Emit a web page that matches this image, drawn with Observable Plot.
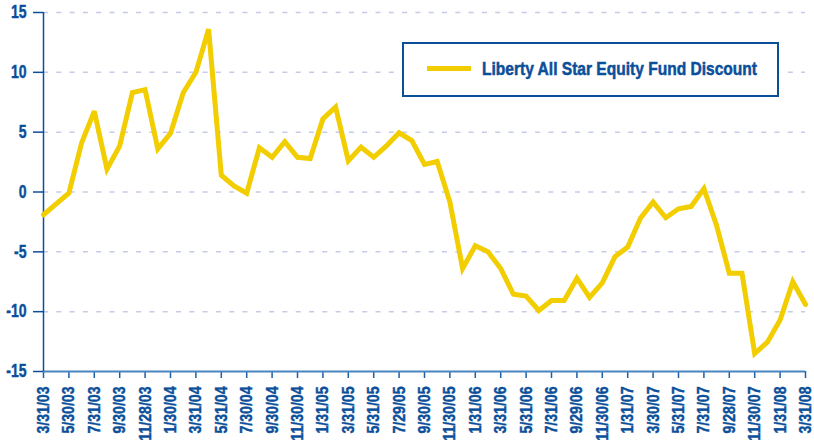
<!DOCTYPE html>
<html>
<head>
<meta charset="utf-8">
<script src="https://cdn.jsdelivr.net/npm/d3@7"></script>
<script src="https://cdn.jsdelivr.net/npm/@observablehq/plot@0.6"></script>
<style>
  html, body { margin: 0; padding: 0; background: #fff; }
  #wrap { position: relative; width: 814px; height: 447px; overflow: hidden; }
  #legend {
    position: absolute; left: 402px; top: 42px; width: 373px; height: 51px;
    border: 2.5px solid #0b4f9a; background: #fff; box-sizing: content-box;
    font-family: 'Liberation Sans', Arial, sans-serif;
    font-weight: bold; font-size: 18px; color: #0b4f9a;
  }
  #legend .swatch { position: absolute; left: 23px; top: 22px; width: 44px; height: 5px; background: #f2cd00; }
  #legend .txt { position: absolute; left: 78px; top: 15px; line-height: 20px; white-space: nowrap; transform-origin: 0 50%; -webkit-text-stroke: 0.5px #0b4f9a; }
  g[aria-label$="tick label"] text { stroke: #0b4f9a; stroke-width: 0.45px; }
</style>
</head>
<body>
<div id="wrap">
  <div id="chart"></div>
  <div id="legend"><div class="swatch"></div><span class="txt">Liberty All Star Equity Fund Discount</span></div>
</div>
<script>
const tickLabels = ["3/31/03","5/30/03","7/31/03","9/30/03","11/28/03","1/30/04","3/31/04","5/31/04","7/30/04","9/30/04","11/30/04","1/31/05","3/31/05","5/31/05","7/29/05","9/30/05","11/30/05","1/31/06","3/31/06","5/31/06","7/31/06","9/29/06","11/30/06","1/31/07","3/30/07","5/31/07","7/31/07","9/28/07","11/30/07","1/31/08","3/31/08"];
const discount = [-1.9,-1.0,-0.1,4.1,6.75,1.9,3.85,8.3,8.55,3.6,4.9,8.3,10.0,13.6,1.4,0.5,-0.1,3.7,2.9,4.2,2.9,2.8,6.1,7.1,2.6,3.75,2.9,3.85,4.95,4.3,2.3,2.55,-0.84,-6.4,-4.5,-5.0,-6.4,-8.55,-8.7,-9.9,-9.06,-9.06,-7.2,-8.8,-7.6,-5.4,-4.6,-2.2,-0.84,-2.15,-1.4,-1.2,0.28,-2.8,-6.8,-6.8,-13.5,-12.55,-10.7,-7.5,-9.4];
const yTicks = [-15,-10,-5,0,5,10,15];
const gridValues = [-10,-5,0,5,10,15];

const data = discount.map((v, i) => ({i, v}));
const xTicks = d3.range(0, discount.length, 2);
const blue = "#0b4f9a";

const chart = Plot.plot({
  width: 814,
  height: 447,
  marginLeft: 43,
  marginRight: 9,
  marginTop: 12,
  marginBottom: 76,
  style: {
    fontFamily: "'Liberation Sans', Arial, sans-serif",
    fontWeight: "bold",
    fontSize: "17px",
    color: blue,
    background: "white",
    overflow: "visible"
  },
  x: {domain: [0, discount.length - 1]},
  y: {domain: [-15, 15]},
  marks: [
    Plot.ruleY(gridValues, {stroke: "#c5cbe6", strokeWidth: 1.5, strokeDasharray: "5,8.3"}),
    Plot.axisY({ticks: yTicks, tickFormat: d => String(d), tickSize: 10, tickPadding: 7, fontSize: 18, label: null, stroke: blue, strokeWidth: 1.5}),
    Plot.axisX({ticks: xTicks, tickFormat: i => tickLabels[i / 2], tickRotate: -90, tickSize: 7, tickPadding: 8, label: null, stroke: "#1d5fa6", strokeWidth: 1.5}),
    Plot.ruleY([-15], {stroke: "#4a84bf", strokeWidth: 2}),
    Plot.ruleX([0], {stroke: blue, strokeWidth: 1.5}),
    Plot.line(data, {x: "i", y: "v", stroke: "#f2cd00", strokeWidth: 5, strokeLinejoin: "miter", strokeMiterlimit: 3})
  ]
});
document.getElementById("chart").append(chart);

// condense tick label glyphs to mimic a condensed bold face
chart.querySelectorAll('g[aria-label="x-axis tick label"] text').forEach(t => {
  const len = t.getComputedTextLength();
  t.setAttribute("textLength", (len * 0.83).toFixed(2));
  t.setAttribute("lengthAdjust", "spacingAndGlyphs");
});
chart.querySelectorAll('g[aria-label="y-axis tick label"] text').forEach(t => {
  const len = t.getComputedTextLength();
  t.setAttribute("textLength", (len * 0.78).toFixed(2));
  t.setAttribute("lengthAdjust", "spacingAndGlyphs");
});
const lt = document.querySelector("#legend .txt");
const w = lt.getBoundingClientRect().width;
lt.style.transform = `scaleX(${275 / w})`;
</script>
</body>
</html>
